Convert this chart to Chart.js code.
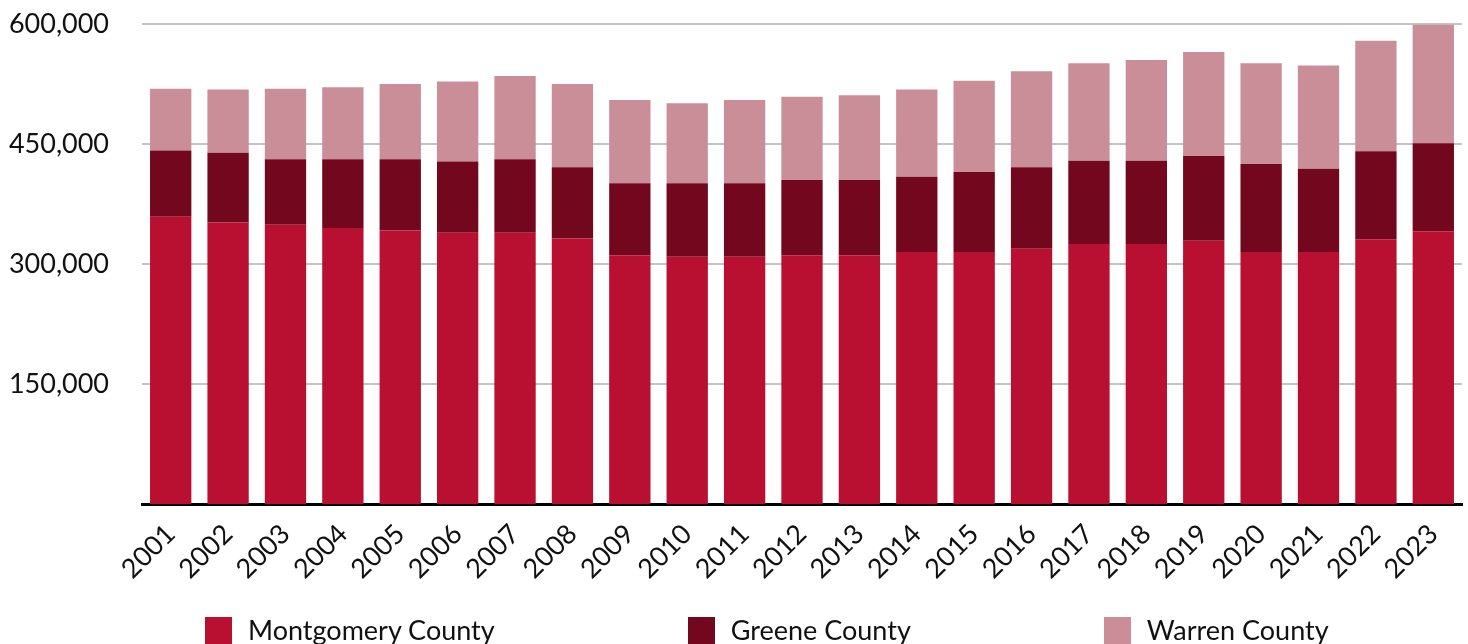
<!DOCTYPE html>
<html>
<head>
<meta charset="utf-8">
<script src="https://cdn.jsdelivr.net/npm/chart.js@4.4.1/dist/chart.umd.min.js"></script>
<style>
  html, body { margin: 0; padding: 0; background: #fff; overflow: hidden; }
  #wrap { position: relative; width: 1468px; height: 644px; }
  #legend {
    position: absolute; left: 205px; top: 615px;
    display: flex; gap: 193px;
    font-family: Lato, sans-serif; font-size: 27px; color: #111;
  }
  .item { display: flex; align-items: center; gap: 16px; white-space: nowrap; line-height: 30px; }
  .swatch { width: 27px; height: 27px; }
</style>
</head>
<body>
<div id="wrap">
  <canvas id="chart" width="1468" height="644"></canvas>
  <div id="legend"></div>
</div>
<script>
// -------------------------
// Data (people, by year)
// -------------------------
const years = ["2001","2002","2003","2004","2005","2006","2007","2008","2009","2010","2011","2012",
  "2013","2014","2015","2016","2017","2018","2019","2020","2021","2022","2023"];

const montgomery = [359000, 352000, 349000, 345000, 342000, 339000, 339000, 332000, 311000, 309000, 309000, 311000,
  311000, 315000, 315000, 319000, 325000, 325000, 329000, 315000, 315000, 331000, 341000];

const greene = [83000, 87000, 82000, 86000, 89000, 89000, 92000, 89000, 90000, 92000, 92000, 94000,
  94000, 94000, 100000, 102000, 104000, 104000, 106000, 110000, 104000, 110000, 110000];

const warren = [77000, 79000, 88000, 90000, 94000, 100000, 104000, 104000, 104000, 100000, 104000, 104000,
  106000, 109000, 114000, 120000, 122000, 126000, 130000, 126000, 129000, 138000, 148000];

const yTicks = [150000, 300000, 450000, 600000];

const series = [
  { label: "Montgomery County", data: montgomery, color: "#b91031" },
  { label: "Greene County", data: greene, color: "#73071d" },
  { label: "Warren County", data: warren, color: "#ca8e99" },
];

// -------------------------
// Chart
// -------------------------
const font = "Lato, sans-serif";

new Chart(document.getElementById("chart"), {
  type: "bar",
  data: {
    labels: years,
    datasets: series.map(s => ({
      label: s.label,
      data: s.data,
      backgroundColor: s.color,
      borderWidth: 0,
      barPercentage: 0.72,
      categoryPercentage: 1,
    })),
  },
  options: {
    responsive: false,
    animation: false,
    layout: { padding: { left: 0, right: 6, top: 24, bottom: 40 } },
    plugins: { legend: { display: false }, tooltip: { enabled: false } },
    scales: {
      x: {
        stacked: true,
        grid: { display: false },
        border: { color: "#000", width: 3 },
        ticks: {
          font: { family: font, size: 27 },
          color: "#111",
          minRotation: 45,
          maxRotation: 45,
          padding: 6,
        },
        afterFit: s => { s.height = 100; },
      },
      y: {
        stacked: true,
        min: 0,
        max: 600000,
        afterBuildTicks: s => { s.ticks = yTicks.map(v => ({ value: v })); },
        // invisible tick marks keep the labels clear of the plot without padding the top
        grid: { color: "#c4c4c4", lineWidth: 2, drawTicks: true, tickLength: 33, tickColor: "rgba(0,0,0,0)" },
        border: { display: false },
        ticks: {
          font: { family: font, size: 27 },
          color: "#111",
          padding: 0,
          callback: v => v.toLocaleString("en-US"),
        },
        afterFit: s => { s.width = 142; },
      },
    },
  },
});

// -------------------------
// Legend
// -------------------------
const legendEl = document.getElementById("legend");
series.forEach(s => {
  const item = document.createElement("div");
  item.className = "item";
  item.innerHTML = `<span class="swatch" style="background:${s.color}"></span><span>${s.label}</span>`;
  legendEl.appendChild(item);
});
</script>
</body>
</html>
